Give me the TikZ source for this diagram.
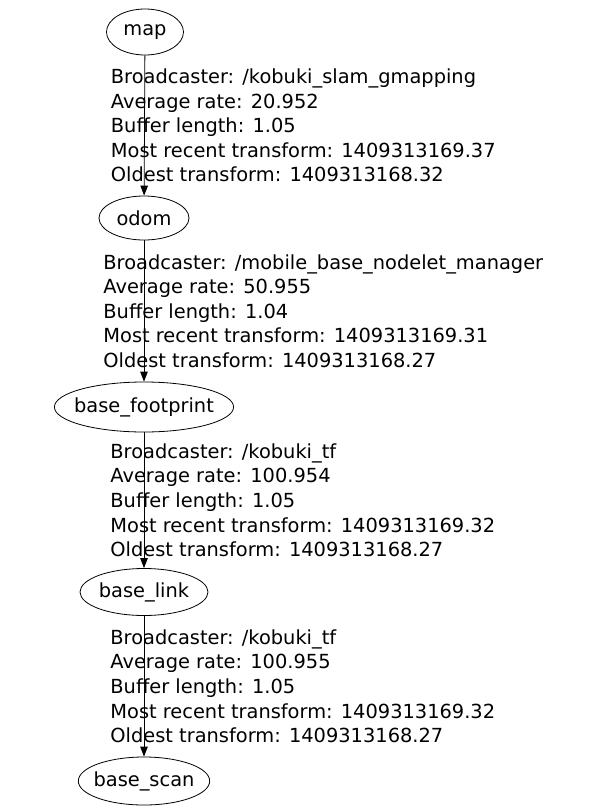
\documentclass[tikz,border=0pt]{standalone}
\usepackage{fontspec}
\setmainfont{DejaVu Sans}
\usepackage{tikz}
\usetikzlibrary{shapes.geometric,arrows.meta,positioning}

\begin{document}
\begin{tikzpicture}[
  x=1pt,y=-1pt,
  frame/.style={ellipse,draw,thick,inner sep=0pt,font=\fontsize{19.4}{22}\selectfont},
  info/.style={anchor=west,align=left,inner sep=0pt,
               font=\fontsize{19.4}{24.6}\selectfont},
  arr/.style={-{Triangle[length=10pt,width=7.5pt]},thick,color=black}
]
  \useasboundingbox (0,0) rectangle (590,809);

  % Frames
  \node[frame,minimum width=77pt,minimum height=46pt] (map) at (145,32) {map};
  \node[frame,minimum width=90pt,minimum height=44pt] (odom) at (144,218) {odom};
  \node[frame,inner xsep=-6.5pt,minimum height=50pt] (fp) at (144,407) {base\_footprint};
  \node[frame,minimum width=128pt,minimum height=47pt] (link) at (144,592) {base\_link};
  \node[frame,inner xsep=-4pt,minimum height=48pt] (scan) at (144,781) {base\_scan};

  % Transforms
  \draw[arr] (map) -- node[info,xshift=-34pt] (tf1)
    {Broadcaster: /kobuki\_slam\_gmapping\\Average rate: 20.952\\Buffer length: 1.05\\
     Most recent transform: 1409313169.37\\Oldest transform: 1409313168.32} (odom);
  \draw[arr] (odom) -- node[info,xshift=-41pt] (tf2)
    {Broadcaster: /mobile\_base\_nodelet\_manager\\Average rate: 50.955\\Buffer length: 1.04\\
     Most recent transform: 1409313169.31\\Oldest transform: 1409313168.27} (fp);
  \draw[arr] (fp) -- node[info,xshift=-34pt] (tf3)
    {Broadcaster: /kobuki\_tf\\Average rate: 100.954\\Buffer length: 1.05\\
     Most recent transform: 1409313169.32\\Oldest transform: 1409313168.27} (link);
  \draw[arr] (link) -- node[info,xshift=-34pt] (tf4)
    {Broadcaster: /kobuki\_tf\\Average rate: 100.955\\Buffer length: 1.05\\
     Most recent transform: 1409313169.32\\Oldest transform: 1409313168.27} (scan);

\end{tikzpicture}
\end{document}
